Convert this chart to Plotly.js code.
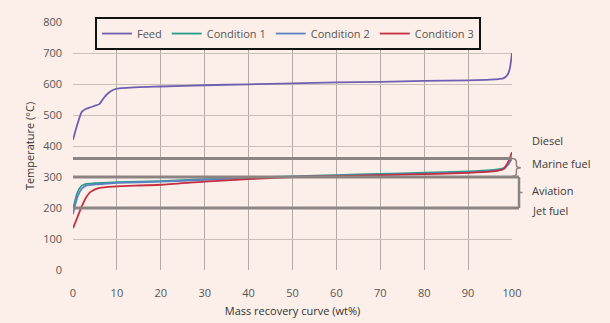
<!DOCTYPE html>
<html>
<head>
<meta charset="utf-8">
<script src="https://cdn.plot.ly/plotly-3.0.1.min.js"></script>
<style>html,body{margin:0;padding:0;background:#fcefe9;}#chart{width:610px;height:323px;}</style>
</head>
<body>
<div id="chart"></div>
<script>
const feedX = [0,1,2,3,4,5,6,7,8,9,10,15,20,30,40,50,60,70,80,90,95,97,98,99,99.5,100];
const feedY = [420,470,510,520,525,530,535,555,570,580,585,590,592,596,599,602,605,607,610,612,614,616,618,630,650,700];

const c1X = [0,1,2,3,5,8,10,20,30,40,50,60,70,80,90,95,98,99,100];
const c1Y = [195,250,272,278,280,282,283,287,293,298,302,306,310,314,318,322,328,340,365];

const c2X = [0,1,2,3,5,8,10,20,30,40,50,60,70,80,90,95,98,99,100];
const c2Y = [180,235,262,272,276,279,281,285,291,297,301,304,307,311,315,319,325,338,360];

const c3X = [0,1,2,3,4,6,8,10,20,30,40,50,60,70,80,90,95,98,99,100];
const c3Y = [135,170,205,235,252,265,268,270,275,285,293,300,303,306,309,313,317,325,345,380];

const traceNames = ["Feed","Condition 1","Condition 2","Condition 3"];
const colors = ["#6e5fb0","#2a9a86","#5b83c4","#c42f3f"];

const xTicks = [0,10,20,30,40,50,60,70,80,90,100];
const yTicks = [0,100,200,300,400,500,600,700,800];

const bandLevels = [360,300,200];
const bandLabels = ["Diesel","Marine fuel","Aviation","Jet fuel"];
const bandLabelY = [418,345,258,193];

const series = [[feedX,feedY],[c1X,c1Y],[c2X,c2Y],[c3X,c3Y]];
const data = series.map((s,i)=>({
  x:s[0], y:s[1], type:'scatter', mode:'lines', name:traceNames[i],
  line:{color:colors[i], width:1.8, shape:'spline', smoothing:0.6}
}));

const gray = '#8c8482';
const xEnd = 1.016;   // paper x of bracket end
const shapes = bandLevels.map(v=>({
  type:'line', xref:'paper', yref:'y', x0:0, x1:(v===360?1.0:xEnd), y0:v, y1:v,
  line:{color:gray, width:3}, layer:'above'
}));
// bracket for aviation jet fuel
shapes.push({type:'line', xref:'paper', yref:'y', x0:xEnd, x1:xEnd, y0:300, y1:200,
  line:{color:gray, width:2.5}});
shapes.push({type:'line', xref:'paper', yref:'y', x0:xEnd, x1:xEnd+0.008, y0:250, y1:250,
  line:{color:gray, width:1.5}});
// brace for marine fuel
shapes.push({type:'path', xref:'paper', yref:'y',
  path:'M 1.0 360 Q 1.01 360 1.01 348 L 1.01 338 Q 1.01 330 1.02 330 Q 1.01 330 1.01 322 L 1.01 312 Q 1.01 302 1.0 302',
  line:{color:gray, width:1.5}});

const annotations = bandLabels.map((t,i)=>({
  text:t, xref:'paper', yref:'y', x:1.04, y:bandLabelY[i], xanchor:'left', yanchor:'middle',
  showarrow:false, font:{family:'Open Sans, sans-serif', size:11, color:'#3a3a3a'}
}));

const layout = {
  width:610, height:323,
  paper_bgcolor:'#fcefe9', plot_bgcolor:'#fcefe9',
  margin:{l:73, r:98, t:22, b:53},
  showlegend:true,
  legend:{orientation:'h', x:0.05, y:1.02, xanchor:'left', yanchor:'top',
    bgcolor:'#fcefe9', bordercolor:'#111', borderwidth:2,
    font:{family:'Open Sans, sans-serif', size:11, color:'#555'}, traceorder:'normal'},
  xaxis:{range:[0,100], tickvals:xTicks, showgrid:true, gridcolor:'#b3aaa7', gridwidth:1,
    zeroline:false, showline:false, ticks:'', ticklabelstandoff:15,
    tickfont:{family:'Open Sans, sans-serif', size:11, color:'#555'},
    title:{text:'Mass recovery curve (wt%)', font:{family:'Open Sans, sans-serif', size:11, color:'#333'}, standoff:8}},
  yaxis:{range:[0,800], tickvals:yTicks, showgrid:true, gridcolor:'#c9c0bc', gridwidth:1,
    zeroline:false, showline:false, ticks:'', ticklabelstandoff:10,
    tickfont:{family:'Open Sans, sans-serif', size:11, color:'#555'},
    title:{text:'Temperature (°C)', font:{family:'Open Sans, sans-serif', size:11, color:'#333'}, standoff:6}},
  shapes:shapes, annotations:annotations
};
Plotly.newPlot('chart', data, layout, {displayModeBar:false, staticPlot:true});
</script>
</body>
</html>
